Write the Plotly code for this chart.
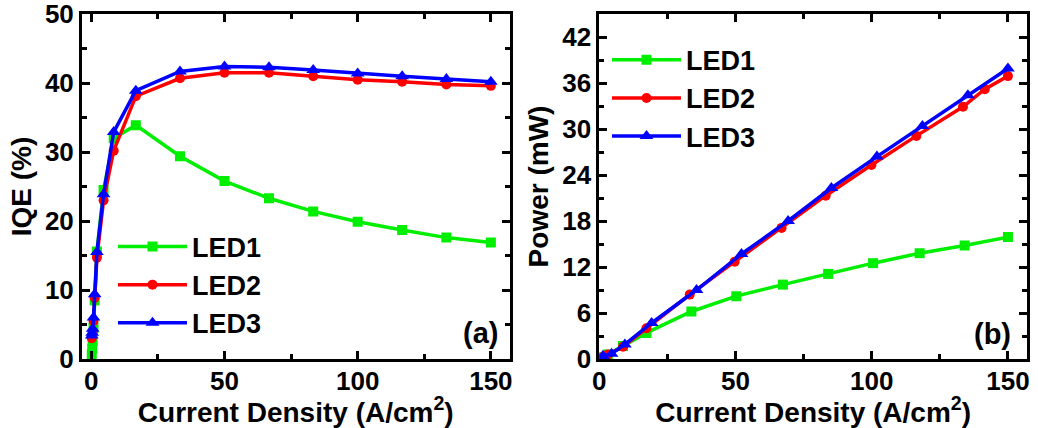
import plotly.graph_objects as go

# ---------------- Data ----------------
# Panel (a): IQE vs current density
iqe_j = [0.17, 0.33, 0.5, 0.83, 1.25, 2.1, 4.6, 8.4, 16.7, 33.3, 50, 66.7, 83.3, 100, 116.7, 133.3, 150]
iqe_led1 = [0.7, 1.5, 2.6, 4.5, 8.5, 15.6, 24.5, 32.0, 33.9, 29.4, 25.8, 23.3, 21.4, 19.9, 18.7, 17.6, 16.9]
iqe_led2 = [3.0, 3.3, 3.8, 5.5, 8.9, 14.7, 23.0, 30.2, 38.1, 40.7, 41.5, 41.5, 41.0, 40.5, 40.2, 39.8, 39.6]
iqe_led3 = [3.4, 3.8, 4.4, 6.0, 9.4, 15.5, 23.9, 32.9, 38.9, 41.7, 42.4, 42.3, 41.9, 41.4, 41.0, 40.6, 40.2]

# Panel (b): optical power vs current density
pw_j_led1 = [0.6, 3.1, 8.7, 17.3, 33.8, 50.3, 67.4, 84.0, 100.5, 117.6, 134.1, 150.0]
pw_led1 = [0.2, 0.6, 1.7, 3.4, 6.2, 8.2, 9.7, 11.1, 12.5, 13.8, 14.8, 15.9]
pw_j_led2 = [0.6, 3.2, 8.7, 17.3, 33.2, 49.7, 66.9, 83.1, 99.9, 116.4, 133.5, 141.5, 150.0]
pw_led2 = [0.2, 0.6, 1.6, 4.0, 8.4, 12.7, 17.1, 21.3, 25.3, 29.1, 32.9, 35.2, 36.9]
pw_j_led3 = [1.3, 4.5, 9.4, 19.2, 35.7, 52.2, 69.3, 85.2, 101.9, 118.6, 135.3, 150.0]
pw_led3 = [0.4, 0.7, 1.9, 4.7, 9.0, 13.7, 18.0, 22.3, 26.4, 30.4, 34.4, 37.9]

names = ["LED1", "LED2", "LED3"]
colors = ["#00ee00", "#ff0000", "#0000ff"]
symbols = ["square", "circle", "triangle-up"]
msizes = [10, 10, 12]

x_title = "Current Density (A/cm<sup>2</sup>)"
FONT = "Liberation Sans, Arial, sans-serif"

fig = go.Figure()

iqe_sets = [iqe_led1, iqe_led2, iqe_led3]
for name, c, s, ms, yv in zip(names, colors, symbols, msizes, iqe_sets):
    fig.add_trace(go.Scatter(
        x=iqe_j, y=yv, name=name, mode="lines+markers",
        line=dict(color=c, width=3.5),
        marker=dict(color=c, symbol=s, size=ms),
        xaxis="x", yaxis="y", legend="legend",
    ))

pw_sets = [(pw_j_led1, pw_led1), (pw_j_led2, pw_led2), (pw_j_led3, pw_led3)]
for name, c, s, ms, (xv, yv) in zip(names, colors, symbols, msizes, pw_sets):
    fig.add_trace(go.Scatter(
        x=xv, y=yv, name=name, mode="lines+markers",
        line=dict(color=c, width=3.5),
        marker=dict(color=c, symbol=s, size=ms),
        xaxis="x2", yaxis="y2", legend="legend2",
    ))

axis_common = dict(
    showline=True, linewidth=3, linecolor="black", mirror="ticks",
    ticks="inside", ticklen=8, tickwidth=2.5, tickcolor="black",
    showgrid=False, zeroline=False, automargin=False,
    ticklabeloverflow="allow",
    tickfont=dict(family=FONT, size=26, color="black", weight="bold"),
)
title_font = dict(family=FONT, size=28, color="black", weight="bold")
minor_x = dict(ticks="inside", ticklen=5, tickwidth=2.5, tickcolor="black", dtick=25, tick0=0)
legend_font = dict(family=FONT, size=27, color="black", weight="bold")

W, L, R = 1038, 82, 11
PW = W - L - R
PH = 428 - 14 - 69

x1_dom = [0, (509.5 - L) / PW]
x2_dom = [(599.3 - L) / PW, 1]

fig.update_layout(
    width=1038, height=428,
    margin=dict(l=L, r=R, t=14, b=69),
    paper_bgcolor="white", plot_bgcolor="white",
    font=dict(family=FONT, color="black"),
    xaxis=dict(domain=x1_dom, range=[-3.5, 157], anchor="y",
               tickvals=[0, 50, 100, 150], minor=minor_x, ticklabelstandoff=-3,
               title=dict(text=x_title, font=title_font, standoff=0),
               **axis_common),
    yaxis=dict(domain=[0, 1], range=[0, 50.02], anchor="x",
               tickvals=[0, 10, 20, 30, 40, 50],
               minor=dict(ticks="inside", ticklen=5, tickwidth=2.5, tickcolor="black", dtick=5, tick0=0),
               title=dict(text="IQE (%)", font=title_font, standoff=6),
               **axis_common),
    xaxis2=dict(domain=x2_dom, range=[0, 157], anchor="y2",
                tickvals=[0, 50, 100, 150], minor=minor_x, ticklabelstandoff=-3,
                title=dict(text=x_title, font=title_font, standoff=0),
                **axis_common),
    yaxis2=dict(domain=[0, 1], range=[0, 45], anchor="x2",
                tickvals=[0, 6, 12, 18, 24, 30, 36, 42],
                minor=dict(ticks="inside", ticklen=5, tickwidth=2.5, tickcolor="black", dtick=3, tick0=0),
                title=dict(text="Power (mW)", font=title_font, standoff=6),
                **axis_common),
    legend=dict(x=(113 - L) / PW, y=(359 - 285) / PH, xanchor="left", yanchor="middle",
                xref="paper", yref="paper", bgcolor="rgba(0,0,0,0)", borderwidth=0,
                itemwidth=69, font=legend_font),
    legend2=dict(x=(607 - L) / PW, y=(359 - 98.3) / PH, xanchor="left", yanchor="middle",
                 xref="paper", yref="paper", bgcolor="rgba(0,0,0,0)", borderwidth=0,
                 itemwidth=69, font=legend_font),
    annotations=[
        dict(text="(a)", x=(480 - L) / PW, y=(359 - 333) / PH, xref="paper", yref="paper",
             xanchor="center", yanchor="middle", showarrow=False,
             font=dict(family=FONT, size=29, color="black", weight="bold")),
        dict(text="(b)", x=(992.5 - L) / PW, y=(359 - 334) / PH, xref="paper", yref="paper",
             xanchor="center", yanchor="middle", showarrow=False,
             font=dict(family=FONT, size=29, color="black", weight="bold")),
    ],
)

# remove the browser's default 8px page margin so the figure sits at (0, 0)
fig.write_html("out.html",
               config={"displayModeBar": False},
               post_script="document.body.style.margin='0';document.body.style.overflow='hidden';")
